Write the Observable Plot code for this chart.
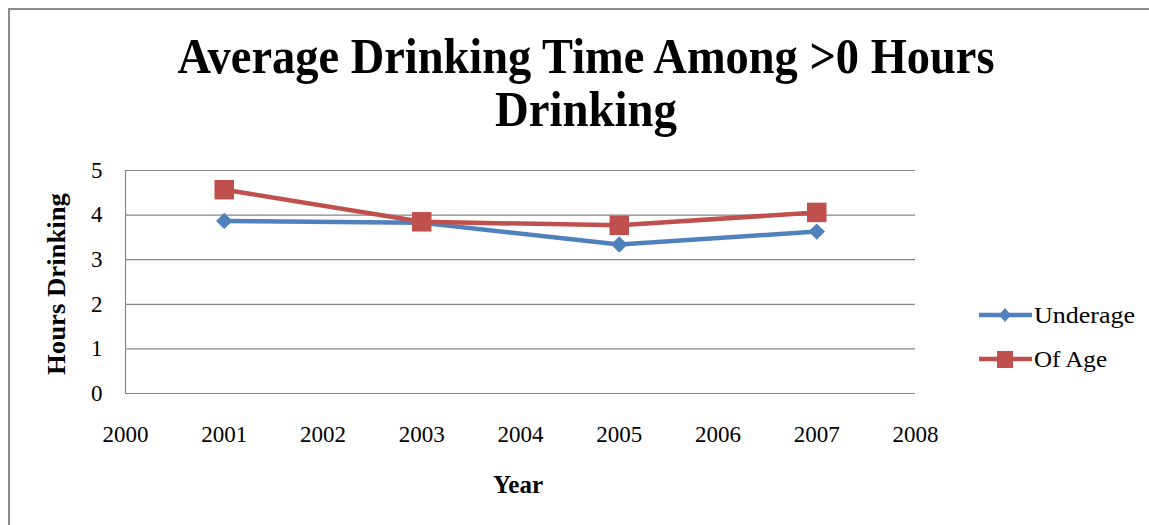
<!DOCTYPE html>
<html>
<head>
<meta charset="utf-8">
<script src="https://cdn.jsdelivr.net/npm/d3@7"></script>
<script src="https://cdn.jsdelivr.net/npm/@observablehq/plot@0.6"></script>
<style>
  html, body { margin: 0; padding: 0; background: #fff; }
  #wrap { position: relative; width: 1149px; height: 525px; overflow: hidden; font-family: "Liberation Serif", "Times New Roman", serif; }
  #frame { position: absolute; left: 8px; top: 8px; width: 1200px; height: 600px; border-left: 2px solid #8c8c8c; border-top: 2px solid #8c8c8c; }
  #chart { position: absolute; left: 0; top: 0; }
  #chart svg, #chart svg text { font-family: "Liberation Serif", "Times New Roman", serif !important; }
  #overlay { position: absolute; left: 0; top: 0; pointer-events: none; }
</style>
</head>
<body>
<div id="wrap">
  <div id="frame"></div>
  <div id="chart"></div>
  <svg id="overlay" width="1149" height="525"></svg>
</div>
<script>
const titleLines = ["Average Drinking Time Among >0 Hours", "Drinking"];
const xLabel = "Year";
const yLabel = "Hours Drinking";
const years = [2001, 2003, 2005, 2007];
const seriesNames = ["Underage", "Of Age"];
const underage = [3.87, 3.83, 3.34, 3.63];
const ofAge = [4.57, 3.85, 3.77, 4.06];
const xTicks = [2000, 2001, 2002, 2003, 2004, 2005, 2006, 2007, 2008];
const yTicks = [0, 1, 2, 3, 4, 5];
const colors = ["#4F81BD", "#C0504D"];

const data = [
  ...years.map((year, i) => ({year, value: underage[i], series: seriesNames[0]})),
  ...years.map((year, i) => ({year, value: ofAge[i], series: seriesNames[1]}))
];

const grid = "#868686";
const serif = "'Liberation Serif', 'Times New Roman', serif";

const plot = Plot.plot({
  width: 1149,
  height: 525,
  marginTop: 170,
  marginBottom: 132,
  marginLeft: 125,
  marginRight: 234,
  style: {fontFamily: serif, fontSize: "23px", color: "#000", background: "transparent"},
  x: {domain: [2000, 2008]},
  y: {domain: [0, 5]},
  color: {domain: seriesNames, range: colors},
  marks: [
    Plot.gridY(yTicks, {stroke: grid, strokeOpacity: 1, strokeWidth: 1.2}),
    Plot.ruleX([2000], {stroke: grid, strokeWidth: 1.2}),
    Plot.axisX(xTicks, {tickSize: 0, tickPadding: 32, tickFormat: "d", fontSize: 23, fontFamily: serif, label: null}),
    Plot.axisY(yTicks, {tickSize: 0, tickPadding: 23, fontSize: 23, fontFamily: serif, label: null}),
    Plot.line(data, {x: "year", y: "value", z: "series", stroke: "series", strokeWidth: 4.5}),
    Plot.dot(data.filter(d => d.series === seriesNames[0]), {x: "year", y: "value", fill: "series", symbol: "diamond2", r: 7.4}),
    Plot.dot(data.filter(d => d.series === seriesNames[1]), {x: "year", y: "value", fill: "series", symbol: "square", r: 11})
  ]
});
document.getElementById("chart").appendChild(plot);

// Overlay: title, axis labels, legend
const ov = d3.select("#overlay");
const titleSpec = [{y: 73, len: 817}, {y: 126, len: 182}];
titleLines.forEach((t, i) => {
  ov.append("text").attr("x", 586).attr("y", titleSpec[i].y)
    .attr("text-anchor", "middle").attr("font-family", serif).attr("font-weight", "bold")
    .attr("font-size", 50).attr("textLength", titleSpec[i].len).attr("lengthAdjust", "spacingAndGlyphs")
    .text(t);
});
ov.append("text").attr("x", 518).attr("y", 493).attr("text-anchor", "middle")
  .attr("font-family", serif).attr("font-weight", "bold").attr("font-size", 26)
  .attr("textLength", 50).attr("lengthAdjust", "spacingAndGlyphs").text(xLabel);
ov.append("text").attr("transform", "translate(65,284) rotate(-90)").attr("text-anchor", "middle")
  .attr("font-family", serif).attr("font-weight", "bold").attr("font-size", 26)
  .attr("textLength", 182).attr("lengthAdjust", "spacingAndGlyphs").text(yLabel);

const legendY = [315, 359];
const legendLen = [101, 73];
seriesNames.forEach((s, i) => {
  const g = ov.append("g").attr("transform", `translate(0,${legendY[i]})`);
  g.append("line").attr("x1", 979).attr("x2", 1032).attr("y1", 0).attr("y2", 0)
    .attr("stroke", colors[i]).attr("stroke-width", 4.5);
  if (i === 0) {
    g.append("path").attr("d", "M1005,-7L1011,0L1005,7L999,0Z").attr("fill", colors[i]);
  } else {
    g.append("rect").attr("x", 997).attr("y", -8).attr("width", 16).attr("height", 17).attr("fill", colors[i]);
  }
  g.append("text").attr("x", 1034).attr("y", 8).attr("font-family", serif).attr("font-size", 23)
    .attr("textLength", legendLen[i]).attr("lengthAdjust", "spacingAndGlyphs").text(s);
});
</script>
</body>
</html>
